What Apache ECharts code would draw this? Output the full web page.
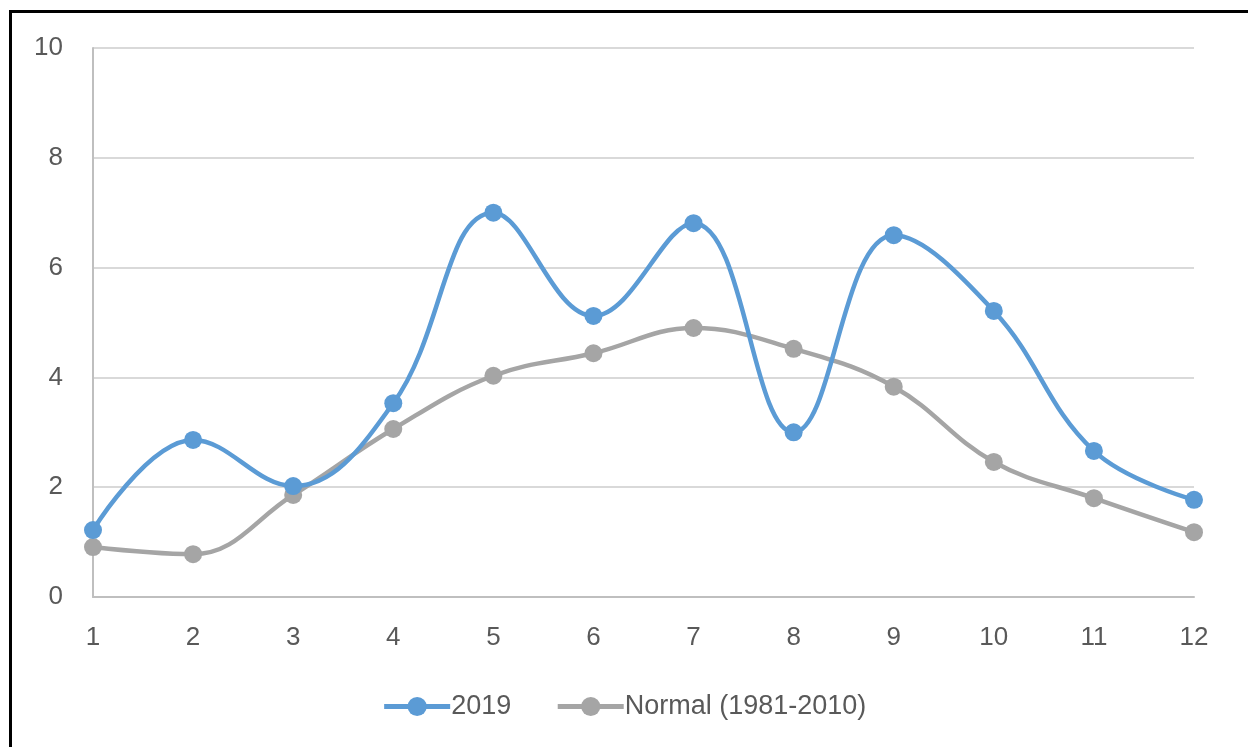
<!DOCTYPE html>
<html><head><meta charset="utf-8">
<script src="https://cdn.jsdelivr.net/npm/echarts@6/dist/echarts.min.js"></script>
<style>
html,body{margin:0;padding:0;background:#fff;}
#c{width:1248px;height:747px;position:absolute;left:0;top:0;}
#frame{position:absolute;left:9px;top:10px;width:1236px;height:760px;border-left:3px solid #000;border-top:3px solid #000;border-right:1px solid #333;pointer-events:none;}
</style></head>
<body>
<div id="c"></div>
<div id="frame"></div>
<script>
const categories = ['1','2','3','4','5','6','7','8','9','10','11','12'];
const series2019 = [1.22, 2.86, 2.02, 3.53, 7.0, 5.12, 6.81, 3.0, 6.59, 5.21, 2.66, 1.77];
const seriesNormal = [0.91, 0.78, 1.86, 3.06, 4.03, 4.44, 4.90, 4.52, 3.83, 2.46, 1.80, 1.18];
const seriesNames = ['2019', 'Normal (1981-2010)'];

const chart = echarts.init(document.getElementById('c'));
const font = 'Liberation Sans, Arial, sans-serif';
chart.setOption({
  animation: false,
  grid: {left: 93, right: 54, top: 48, bottom: 150},
  legend: {
    bottom: 22, left: 'center',
    itemWidth: 66, itemHeight: 24, itemGap: 44,
    lineStyle: {width: 5},
    textStyle: {fontFamily: font, fontSize: 27, color: '#595959', padding: [0,0,0,-4]},
    data: seriesNames
  },
  xAxis: {
    type: 'category', data: categories, boundaryGap: false,
    axisLine: {lineStyle: {color: '#bfbfbf', width: 2}},
    axisTick: {show: false},
    axisLabel: {fontFamily: font, fontSize: 26, color: '#595959', margin: 28}
  },
  yAxis: {
    type: 'value', min: 0, max: 10, interval: 2,
    axisLine: {show: true, lineStyle: {color: '#bfbfbf', width: 2}},
    axisTick: {show: false},
    splitLine: {lineStyle: {color: '#d9d9d9', width: 2}},
    axisLabel: {fontFamily: font, fontSize: 26, color: '#595959', margin: 30}
  },
  series: [
    {name: seriesNames[0], type: 'line', data: series2019, smooth: 0.4,
     symbol: 'circle', symbolSize: 18,
     lineStyle: {color: '#5b9bd5', width: 4.5}, itemStyle: {color: '#5b9bd5'}, z: 3},
    {name: seriesNames[1], type: 'line', data: seriesNormal, smooth: 0.4,
     symbol: 'circle', symbolSize: 18,
     lineStyle: {color: '#a5a5a5', width: 4.5}, itemStyle: {color: '#a5a5a5'}, z: 2}
  ]
});
</script>
</body></html>
